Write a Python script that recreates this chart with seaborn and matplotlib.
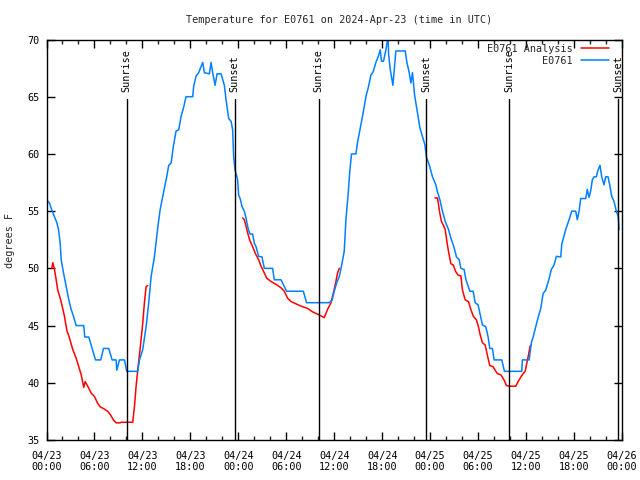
import numpy as np
import pandas as pd
import matplotlib
matplotlib.use("Agg")
import matplotlib.pyplot as plt
import matplotlib.transforms as mtransforms
import seaborn as sns

# ---------------- data (hours since 04/23 00:00 UTC, degrees F) ----------------
obs_hours = [0.0, 0.375, 0.66, 1.0, 1.29, 1.5, 1.71, 1.84, 2.13, 2.46, 2.79, 3.09, 3.38, 3.71,
             4.66, 4.79, 5.29, 5.71, 6.13, 6.79, 7.13, 7.79, 8.21, 8.71, 8.79, 9.13, 9.75, 10.04,
             11.41, 11.63, 12.04, 12.46, 12.79, 13.09, 13.5, 13.91, 14.21, 14.63, 15.04, 15.29,
             15.59, 15.88, 16.21, 16.54, 16.84, 17.13, 17.46, 18.29, 18.41, 18.71, 19.04, 19.54,
             19.75, 20.38, 20.59, 20.79, 21.09, 21.34, 21.84, 22.25, 22.46, 22.79, 23.09, 23.29,
             23.41, 23.59, 23.91, 24.04, 24.25, 24.46, 24.75, 24.96, 25.25, 25.46, 25.79, 26.0,
             26.21, 26.54, 26.96, 27.25, 28.29, 28.5, 29.34, 30.04, 32.13, 32.54, 35.38, 35.71,
             36.0, 36.29, 36.63, 36.91, 37.25, 37.46, 37.75, 37.96, 38.16, 38.71, 38.91, 39.21,
             39.54, 39.96, 40.29, 40.59, 40.88, 41.21, 41.5, 41.75, 41.91, 42.16, 42.46, 42.75,
             42.79, 43.0, 43.21, 43.34, 43.71, 44.88, 45.09, 45.38, 45.59, 45.79, 46.04, 46.41,
             46.71, 47.04, 47.34, 47.54, 47.88, 48.29, 48.71, 48.91, 49.21, 49.54, 49.88, 50.29,
             50.59, 51.0, 51.29, 51.63, 51.84, 52.25, 52.46, 52.96, 53.38, 53.63, 54.0, 54.25,
             54.54, 54.96, 55.25, 55.46, 55.79, 56.0, 56.96, 57.29, 59.46, 59.54, 60.38, 60.66,
             60.88, 61.21, 61.54, 61.84, 62.13, 62.46, 62.88, 63.16, 63.5, 63.79, 64.34, 64.46,
             64.96, 65.38, 65.71, 66.21, 66.41, 66.63, 66.84, 67.46, 67.66, 67.88, 68.09, 68.29,
             68.5, 68.79, 69.0, 69.25, 69.46, 69.75, 69.96, 70.25, 70.46, 70.71, 71.0, 71.29,
             71.54, 71.63]
obs_temps = [56.0, 55.7, 55.1, 54.5, 54.0, 53.4, 52.2, 50.75, 49.6, 48.4, 47.25, 46.4, 45.8, 45.0,
             45.0, 44.0, 44.0, 43.0, 42.0, 42.0, 43.0, 43.0, 42.0, 42.0, 41.1, 42.0, 42.0, 41.0,
             41.0, 42.0, 42.9, 44.9, 47.0, 49.3, 51.0, 53.5, 55.1, 56.6, 58.0, 59.0,
             59.2, 60.7, 62.0, 62.1, 63.3, 64.0, 65.0, 65.0, 65.9, 66.8, 67.1, 68.0,
             67.1, 67.0, 68.0, 67.1, 66.0, 67.0, 67.0, 66.0, 64.75, 63.1, 62.85, 62.1,
             59.8, 58.6, 57.75, 56.4, 56.05, 55.4, 55.0, 54.4, 53.4, 53.0, 53.0, 52.2,
             51.9, 51.05, 51.0, 50.0, 50.0, 49.0, 49.0, 48.0, 48.0, 47.0, 47.0, 47.2,
             48.0, 48.7, 49.3, 50.2, 51.5, 54.25, 56.6, 58.6, 60.0, 60.0, 61.0, 62.1,
             63.3, 65.0, 65.9, 66.9, 67.2, 68.0, 68.5, 69.1, 68.1, 68.1, 69.1, 70.3,
             68.8, 67.4, 66.5, 66.0, 69.0, 69.0, 68.0, 67.1, 66.2, 67.1, 65.2, 63.6,
             62.3, 61.5, 60.8, 59.7, 59.05, 58.0, 57.3, 56.7, 56.0, 55.0, 54.1, 53.4,
             52.65, 51.8, 51.0, 50.75, 50.0, 49.9, 49.05, 48.0, 48.0, 47.0, 46.8, 46.0,
             45.05, 44.9, 44.0, 43.0, 43.0, 42.0, 42.0, 41.0, 41.0, 42.0, 42.0, 43.5,
             44.0, 44.9, 45.8, 46.5, 47.8, 48.1, 49.1, 49.9, 50.3, 51.05, 51.0, 52.1,
             53.4, 54.25, 55.0, 55.0, 54.25, 55.0, 56.1, 56.1, 56.9, 56.2, 56.8, 57.75,
             58.0, 58.0, 58.6, 59.0, 58.0, 57.3, 58.0, 58.0, 57.3, 56.3, 55.85, 55.0,
             54.5, 53.4]

ana1_hours = [0.66, 0.79, 1.0, 1.21, 1.41, 1.71, 1.96, 2.25, 2.54, 2.88, 3.29, 3.71, 4.04, 4.34,
              4.66, 4.84, 5.16, 5.59, 6.0, 6.41, 6.71, 7.25, 7.66, 8.0, 8.38, 8.71, 9.21, 9.34,
              10.79, 11.0, 11.21, 11.46, 11.75, 12.04, 12.25, 12.46, 12.66]
ana1_temps = [50.0, 50.5, 49.9, 49.0, 48.1, 47.4, 46.7, 45.8, 44.6, 43.9, 42.9, 42.15, 41.4, 40.7,
              39.6, 40.1, 39.7, 39.1, 38.8, 38.2, 37.9, 37.7, 37.5, 37.2, 36.75, 36.5, 36.5, 36.55,
              36.55, 37.9, 39.7, 41.4, 43.2, 45.2, 47.0, 48.4, 48.5]
ana2_hours = [24.54, 24.75, 24.96, 25.16, 25.46, 25.79, 26.13, 26.54, 26.84, 27.25, 27.54, 28.09,
              28.71, 29.34, 29.75, 30.16, 30.59, 31.21, 31.84, 32.66, 33.29, 33.91, 34.34, 34.75,
              35.16, 35.59, 35.88, 36.21, 36.41, 36.63]
ana2_temps = [54.4, 54.25, 53.7, 53.1, 52.4, 51.9, 51.3, 50.75, 50.2, 49.6, 49.15, 48.85,
              48.6, 48.3, 48.0, 47.4, 47.1, 46.9, 46.7, 46.5, 46.2, 46.0, 45.85, 45.7,
              46.4, 47.0, 47.8, 48.85, 49.6, 50.0]
ana3_hours = [48.59, 48.91, 49.04, 49.21, 49.41, 49.63, 49.88, 50.09, 50.29, 50.59, 50.88, 51.21,
              51.5, 51.84, 52.04, 52.38, 52.79, 53.09, 53.41, 53.79, 54.04, 54.25, 54.54, 54.88,
              55.16, 55.46, 55.88, 56.13, 56.41, 56.84, 57.25, 57.54, 58.09, 58.71, 59.0, 59.34,
              59.63, 59.88, 60.04, 60.29, 60.5, 60.66]
ana3_temps = [56.15, 56.15, 55.6, 54.8, 54.1, 53.8, 53.4, 52.35, 51.5, 50.4, 50.3, 49.7,
              49.4, 49.35, 48.1, 47.25, 47.1, 46.4, 45.8, 45.5, 44.9, 44.2, 43.5, 43.3,
              42.4, 41.5, 41.4, 41.1, 40.8, 40.7, 40.25, 39.75, 39.7, 39.7, 40.1, 40.5,
              40.8, 41.0, 41.55, 42.4, 43.2, 43.3]

sunrise_hours = [10.04, 34.04, 57.92]
sunset_hours = [23.54, 47.54, 71.56]

xtick_hours = list(range(0, 73, 6))
xtick_labels = ["04/23\n00:00", "04/23\n06:00", "04/23\n12:00", "04/23\n18:00",
                "04/24\n00:00", "04/24\n06:00", "04/24\n12:00", "04/24\n18:00",
                "04/25\n00:00", "04/25\n06:00", "04/25\n12:00", "04/25\n18:00",
                "04/26\n00:00"]
ytick_values = [35, 40, 45, 50, 55, 60, 65, 70]

title_text = "Temperature for E0761 on 2024-Apr-23 (time in UTC)"
ylabel_text = "degrees F"
obs_label = "E0761"
ana_label = "E0761 Analysis"

# ---------------- frames ----------------
obs_df = pd.DataFrame({"hours": obs_hours, "temp": obs_temps})
ana_df = pd.concat([
    pd.DataFrame({"hours": ana1_hours, "temp": ana1_temps, "seg": 1}),
    pd.DataFrame({"hours": ana2_hours, "temp": ana2_temps, "seg": 2}),
    pd.DataFrame({"hours": ana3_hours, "temp": ana3_temps, "seg": 3}),
], ignore_index=True)

# ---------------- style ----------------
sns.set_theme(style="white")
FONT = "DejaVu Sans Mono"
FS = 7.3
plt.rcParams["font.family"] = [FONT, "DejaVu Sans"]
plt.rcParams["font.size"] = FS

RED = "#ff0000"
BLUE = "#0080ff"

fig = plt.figure(figsize=(6.4, 4.8), dpi=100)
L, R, T, B = 46.5, 622.0, 39.5, 440.0
ax = fig.add_axes([L / 640, 1 - B / 480, (R - L) / 640, (B - T) / 480])

sns.lineplot(data=ana_df, x="hours", y="temp", units="seg", estimator=None,
             color=RED, linewidth=1.1, ax=ax, sort=False)
sns.lineplot(data=obs_df, x="hours", y="temp", color=BLUE, linewidth=1.1,
             ax=ax, sort=False)

ax.set_xlim(0, 72)
ax.set_ylim(35, 70)

# sunrise / sunset markers
trans = mtransforms.blended_transform_factory(ax.transData, ax.transAxes)
line_top = (B - 98.5) / (B - T)
text_base = (B - 92.0) / (B - T)
for h in sunrise_hours:
    ax.plot([h, h], [0, line_top], color="black", linewidth=1.0, transform=trans)
    ax.text(h, text_base, "Sunrise", rotation=90, transform=trans, ha="center",
            va="bottom", fontsize=FS, color="black")
for h in sunset_hours:
    ax.plot([h, h], [0, line_top], color="black", linewidth=1.0, transform=trans)
    ax.text(h, text_base, "Sunset", rotation=90, transform=trans, ha="center",
            va="bottom", fontsize=FS, color="black")

# ticks
ax.set_xticks(xtick_hours)
ax.set_xticklabels(xtick_labels)
ax.set_xticks(list(range(0, 73, 2)), minor=True)
ax.set_yticks(ytick_values)
ax.set_yticklabels([str(v) for v in ytick_values])
ax.tick_params(axis="both", which="major", direction="in", length=6, width=1,
               top=True, right=True, bottom=True, left=True, colors="black",
               labelsize=FS)
ax.tick_params(axis="x", which="minor", direction="in", length=3, width=1,
               top=True, bottom=True)
ax.tick_params(axis="x", which="major", pad=8)
ax.tick_params(axis="y", which="major", pad=5)
for lab in ax.get_xticklabels():
    lab.set_linespacing(1.05)

for sp in ax.spines.values():
    sp.set_visible(True)
    sp.set_color("black")
    sp.set_linewidth(1.0)

ax.set_xlabel("")
ax.set_ylabel("")
ax.grid(False)

fig.text(339 / 640, 1 - 20 / 480, title_text, ha="center", va="center", fontsize=FS)
fig.text(10 / 640, 0.5, ylabel_text, rotation=90, ha="center", va="center", fontsize=FS)

# legend (gnuplot style: text then sample)
from matplotlib.lines import Line2D
handles = [Line2D([0], [0], color=RED, linewidth=1.1),
           Line2D([0], [0], color=BLUE, linewidth=1.1)]
leg = ax.legend(handles, [ana_label, obs_label], loc="upper right",
                bbox_to_anchor=((609 - L) / (R - L), (B - 44) / (B - T)),
                frameon=False, markerfirst=False, fontsize=FS, handlelength=2.8,
                handletextpad=0.8, labelspacing=0.2, borderpad=0, borderaxespad=0)
for t in leg.get_texts():
    t.set_ha("right")
leg._legend_box.align = "right"

fig.savefig("out.png", dpi=100)
